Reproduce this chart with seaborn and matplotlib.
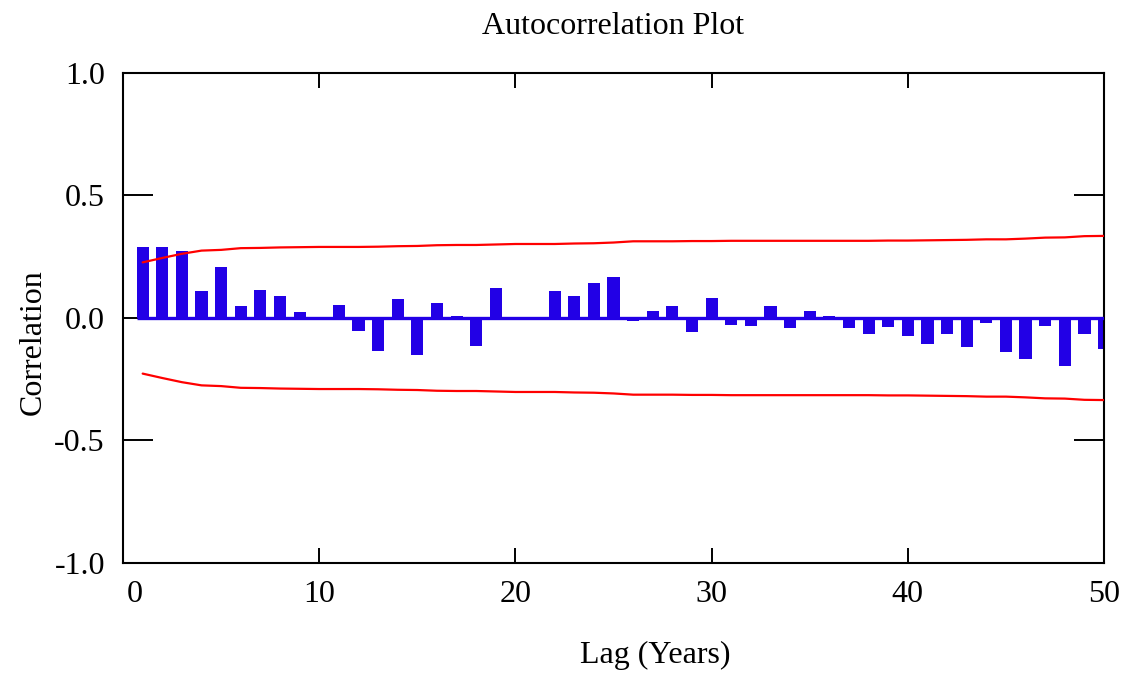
import numpy as np
import pandas as pd
import matplotlib
matplotlib.use("Agg")
import matplotlib.pyplot as plt
import seaborn as sns
from matplotlib.transforms import ScaledTranslation

# ---- data ----
lags = list(range(1, 51))
acf = [0.288, 0.288, 0.275, 0.109, 0.208, 0.050, 0.113, 0.090, 0.023, -0.008,
       0.053, -0.052, -0.133, 0.076, -0.150, 0.061, 0.010, -0.116, 0.122, -0.008,
       0.002, 0.112, 0.088, 0.143, 0.169, -0.011, 0.030, 0.050, -0.058, 0.083,
       -0.029, -0.033, 0.048, -0.042, 0.027, 0.008, -0.039, -0.065, -0.037, -0.072,
       -0.107, -0.064, -0.120, -0.022, -0.137, -0.169, -0.031, -0.195, -0.064, -0.127]
upper_band = [0.227, 0.245, 0.262, 0.275, 0.278, 0.285, 0.286, 0.288, 0.289, 0.290,
              0.290, 0.290, 0.291, 0.293, 0.294, 0.297, 0.298, 0.298, 0.300, 0.302,
              0.302, 0.302, 0.304, 0.305, 0.308, 0.313, 0.313, 0.313, 0.314, 0.314,
              0.315, 0.315, 0.315, 0.315, 0.315, 0.315, 0.315, 0.315, 0.316, 0.316,
              0.317, 0.318, 0.319, 0.321, 0.321, 0.324, 0.328, 0.329, 0.334, 0.335]
lower_band = [-v for v in upper_band]
yticks = [-1.0, -0.5, 0.0, 0.5, 1.0]
xticks = [0, 10, 20, 30, 40, 50]
title = "Autocorrelation Plot"
xlabel = "Lag (Years)"
ylabel = "Correlation"

df = pd.DataFrame({"lag": lags, "acf": acf, "upper": upper_band, "lower": lower_band})

# ---- style ----
sns.set_theme(style="white")
plt.rcParams["font.family"] = ["Liberation Serif", "DejaVu Serif"]
plt.rcParams["font.size"] = 23

BAR_COLOR = "#2200E6"
RED = "#FF0000"
bar_w = 0.62

fig = plt.figure(figsize=(11.32, 6.77), dpi=100)
ax = fig.add_axes([0.1087, 0.1684, 0.8666, 0.7238])

sns.barplot(data=df, x="lag", y="acf", native_scale=True, width=bar_w,
            color=BAR_COLOR, saturation=1, linewidth=0, ax=ax, zorder=2)
ax.hlines(0, df["lag"].iloc[0] - bar_w / 2, df["lag"].iloc[-1], color=BAR_COLOR,
          linewidth=2.4, zorder=3)
sns.lineplot(data=df, x="lag", y="upper", color=RED, linewidth=1.6, ax=ax, zorder=4)
sns.lineplot(data=df, x="lag", y="lower", color=RED, linewidth=1.6, ax=ax, zorder=4)

ax.set_xlim(xticks[0], xticks[-1])
ax.set_ylim(yticks[0], yticks[-1])
ax.set_xticks(xticks)
ax.set_xticklabels([str(t) for t in xticks])
ax.set_yticks(yticks)
ax.set_yticklabels([f"{t:.1f}" for t in yticks])

for s in ax.spines.values():
    s.set_visible(True)
    s.set_color("black")
    s.set_linewidth(1.5)

ax.tick_params(axis="y", which="major", direction="in", length=21.6, width=1.4,
               left=True, right=True, labelleft=True, labelright=False,
               pad=13, colors="black", labelsize=23)
ax.tick_params(axis="x", which="major", direction="in", length=10.8, width=1.4,
               bottom=True, top=True, labelbottom=True, labeltop=False,
               pad=12, colors="black", labelsize=23)

# first x label sits right of the corner
lab0 = ax.get_xticklabels()[0]
lab0.set_transform(lab0.get_transform() + ScaledTranslation(0.12, 0, fig.dpi_scale_trans))

ax.set_title(title, fontsize=23, pad=28, color="black")
ax.set_xlabel(xlabel, fontsize=23, color="black")
ax.set_ylabel(ylabel, fontsize=23, color="black")
ax.xaxis.set_label_coords(0.543, -0.16)
ax.yaxis.set_label_coords(-0.077, 0.45)
ax.grid(False)

fig.savefig("out.png", dpi=100, facecolor="white")
